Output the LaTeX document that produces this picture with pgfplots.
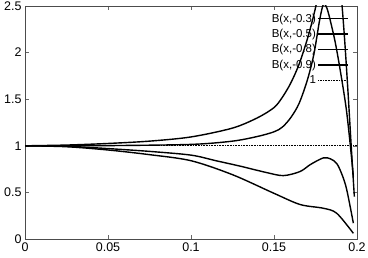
\documentclass[border=0pt]{standalone}
\usepackage{pgfplots}
\pgfplotsset{compat=1.18}
\usepackage{fontspec}
\setmainfont{Liberation Sans}
\begin{document}
\begin{tikzpicture}
\begin{axis}[
  name=ax,
  scale only axis,
  width=332pt, height=233pt,
  xmin=0, xmax=0.2, ymin=0, ymax=2.5,
  xtick={0,0.05,0.1,0.15,0.2},
  ytick={0,0.5,1,1.5,2,2.5},
  scaled x ticks=false, scaled y ticks=false,
  /pgf/number format/fixed,
  /pgf/number format/precision=2,
  /pgf/number format/assume math mode=true,
  tick label style={font=\fontsize{12.5}{14}\selectfont},
  tick align=inside,
  major tick length=4pt,
  every tick/.style={black!60, line width=0.5pt},
  axis line style={black!70, line width=0.5pt},
  xticklabel style={yshift=0pt},
  yticklabel style={xshift=0pt},
  legend plot pos=right,
  legend cell align=right,
  legend image code/.code={\draw[#1] (0pt,0pt) -- (30pt,0pt);},
  legend style={draw=none, fill=none, at={(1,1)}, anchor=north east,
    xshift=-8pt, yshift=-6pt, font=\fontsize{11.5}{13}\selectfont,
    row sep=2.6pt, inner sep=0pt, nodes={inner sep=1.5pt}},
  every axis plot/.append style={line width=1.4pt, black},
]
\addplot[smooth, tension=0.5] coordinates {
 (0,1) (0.025,1.008) (0.05,1.025) (0.075,1.05) (0.1,1.095) (0.125,1.19)
 (0.14,1.3) (0.15,1.41) (0.155,1.52) (0.16,1.67) (0.165,1.87) (0.17,2.14)
 (0.1735,2.37) (0.1765,2.6) (0.18,2.9) (0.184,3.1) (0.188,2.95) (0.1905,2.6)
 (0.1925,2.15) (0.1945,1.6) (0.1965,1.0) (0.1984,0.455)};
\addlegendentry{B(x,-0.3)}
\addplot[smooth, tension=0.5] coordinates {
 (0,1) (0.05,1.002) (0.1,1.015) (0.125,1.05) (0.14,1.1) (0.15,1.15)
 (0.155,1.2) (0.16,1.3) (0.165,1.45) (0.17,1.7) (0.174,1.98) (0.1775,2.35)
 (0.1798,2.52) (0.182,2.47) (0.1845,2.3) (0.187,2.1) (0.19,1.8) (0.1935,1.4)
 (0.196,1.0) (0.1978,0.67)};
\addlegendentry{B(x,-0.5)}
\addplot[smooth, tension=0.5] coordinates {
 (0,1) (0.025,0.995) (0.05,0.97) (0.075,0.94) (0.1,0.9) (0.115,0.84)
 (0.13,0.78) (0.145,0.715) (0.1556,0.68) (0.1657,0.724) (0.172,0.8)
 (0.1797,0.87) (0.184,0.86) (0.1878,0.81) (0.191,0.69) (0.1938,0.53)
 (0.1978,0.17)};
\addlegendentry{B(x,-0.8)}
\addplot[smooth, tension=0.5] coordinates {
 (0,1) (0.025,0.99) (0.05,0.955) (0.075,0.905) (0.1,0.84) (0.125,0.69)
 (0.15,0.49) (0.1657,0.37) (0.1797,0.33) (0.1878,0.276) (0.1978,0.061)};
\addlegendentry{B(x,-0.9)}
\addplot[line width=0.6pt, densely dotted] coordinates {(0,1) (0.2,1)};
\addlegendentry{1}
\end{axis}
\pgfresetboundingbox
\path ([xshift=-25pt,yshift=-19pt]ax.south west) rectangle ([xshift=11pt,yshift=6pt]ax.north east);
\end{tikzpicture}
\end{document}
